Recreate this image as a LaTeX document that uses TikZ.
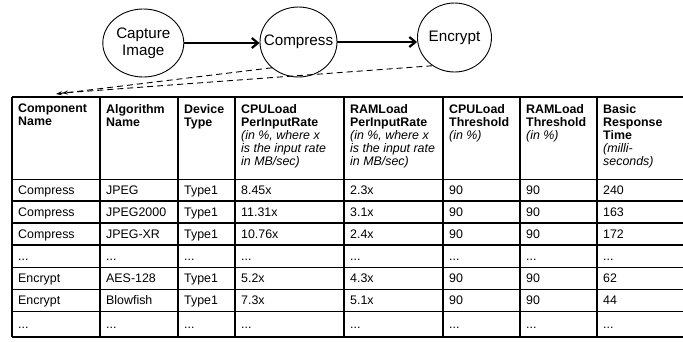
\documentclass[tikz,border=0pt]{standalone}
\usepackage{fontspec}
\setmainfont{Liberation Sans}
\usepackage{tikz}
\usetikzlibrary{arrows.meta}
\usetikzlibrary{shapes.geometric}
\newcommand{\cellnote}[1]{{\mdseries\itshape #1}}
\protected\def\etcdots{.\kern0pt.\kern0pt.}
\tikzset{
  proc/.style={draw, ellipse, line width=0.9pt, inner ysep=0pt, inner xsep=-14pt, align=center, font=\fontsize{15.2}{16.7}\selectfont},
  flow/.style={line width=2.2pt, -{Straight Barb[length=6pt,width=10pt]}},
  link/.style={line width=0.9pt, dash pattern=on 6pt off 4pt, -{Stealth[length=6pt,width=4pt]}},
  grid/.style={line width=1.1pt},
  head/.style={anchor=north west, inner sep=0pt, align=left, font=\fontsize{12.4}{13}\selectfont\bfseries},
  cell/.style={anchor=base west, inner sep=0pt, font=\fontsize{12.4}{13}\selectfont},
}

\begin{document}
\begin{tikzpicture}[x=1pt,y=-1pt]
\useasboundingbox (0,0) rectangle (683,341);
\node[proc, minimum width=81pt, minimum height=68pt] (capture) at (143.3,43) {Capture\\Image};
\node[proc, minimum width=77pt, minimum height=70pt] (compress) at (298.5,42) {Compress};
\node[proc, minimum width=74pt, minimum height=69pt] (encrypt) at (454.5,37.5) {Encrypt};
\draw[flow] (capture.east) -- (capture.east -| compress.west);
\draw[flow] (compress.east) -- (compress.east -| encrypt.west);
\coordinate (endC) at (56,94);
\coordinate (endE) at (62,93);
\draw[link] (compress.224) -- (endC);
\draw[link] (encrypt.232) -- (endE);

\foreach \x in {12,100,178,235,344,443,520,597,686} \draw[grid] (\x,97) -- (\x,337);
\foreach \y in {97,179.3,201,223,245,267.3,289.3,311.7,337} \draw[grid] (12,\y) -- (686,\y);

\node[head] (h1) at (18,104) {Component\\Name};
\node[head] (h2) at (106,104) {Algorithm\\Name};
\node[head] (h3) at (184,104) {Device\\Type};
\node[head] (h4) at (241,104) {CPULoad\\PerInputRate\\\cellnote{(in \%, where x}\\\cellnote{is the input rate}\\\cellnote{in MB/sec)}};
\node[head] (h5) at (350,104) {RAMLoad\\PerInputRate\\\cellnote{(in \%, where x}\\\cellnote{is the input rate}\\\cellnote{in MB/sec)}};
\node[head] (h6) at (449,104) {CPULoad\\Threshold\\\cellnote{(in \%)}};
\node[head] (h7) at (526,104) {RAMLoad\\Threshold\\\cellnote{(in \%)}};
\node[head] (h8) at (603,104) {Basic\\Response\\Time\\\cellnote{(milli-}\\\cellnote{seconds)}};

\foreach \y/\a/\b/\c/\d/\e/\f/\g/\h [count=\r] in {
    194.8/Compress/JPEG/Type1/8.45x/2.3x/90/90/240,
    216.5/Compress/JPEG2000/Type1/11.31x/3.1x/90/90/163,
    238.5/Compress/JPEG-XR/Type1/10.76x/2.4x/90/90/172,
    260.5/\etcdots/\etcdots/\etcdots/\etcdots/\etcdots/\etcdots/\etcdots/\etcdots,
    282.8/Encrypt/AES-128/Type1/5.2x/4.3x/90/90/62,
    304.8/Encrypt/Blowfish/Type1/7.3x/5.1x/90/90/44,
    328/\etcdots/\etcdots/\etcdots/\etcdots/\etcdots/\etcdots/\etcdots/\etcdots}
  {
  \foreach \x/\t [count=\k] in {18/\a,106/\b,184/\c,241/\d,350/\e,449/\f,526/\g,603/\h}
    \node[cell] (r\r-\k) at (\x,\y) {\t};
  }
\end{tikzpicture}
\end{document}
